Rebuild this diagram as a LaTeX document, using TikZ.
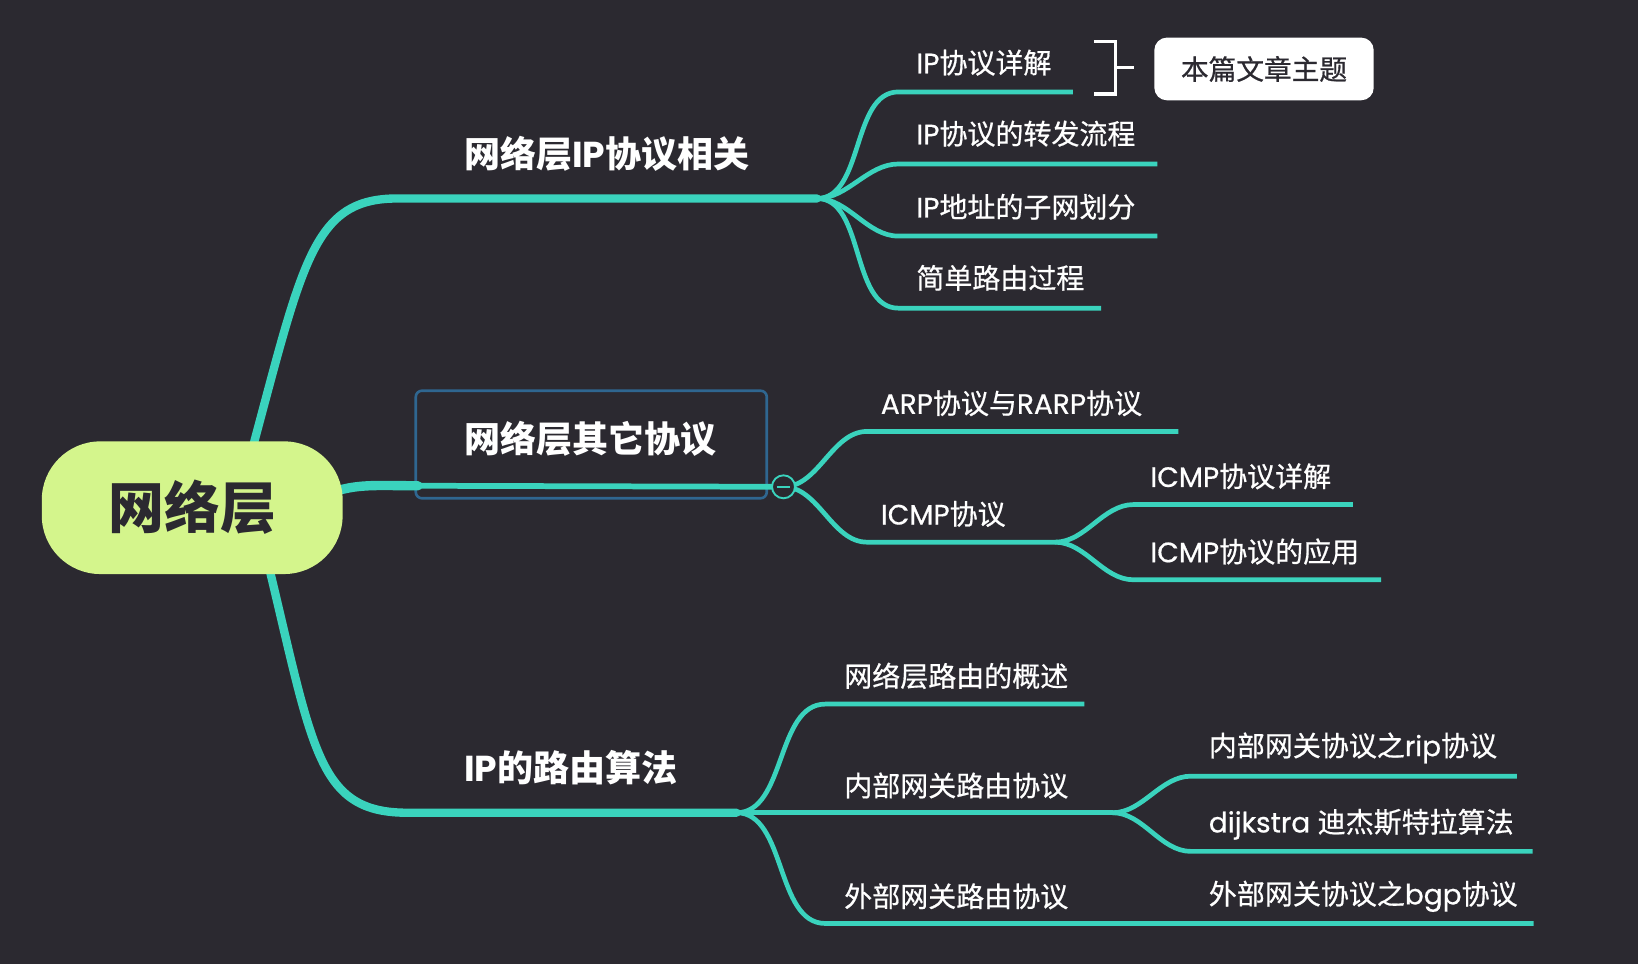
\documentclass[tikz,border=0pt]{standalone}
\usepackage{fontspec}
\setmainfont{Poppins}
\newfontfamily\cjk{Noto Sans CJK SC}
\newfontfamily\cjkm{Noto Sans CJK SC}[FakeBold=0.6]
\newfontfamily\latm{Poppins}[FakeBold=0.6]
\let\zhfont\cjk
\newcommand\zh[1]{{\zhfont #1}}
\definecolor{bg}{HTML}{2B2930}
\definecolor{mmteal}{HTML}{3AD3BD}
\definecolor{rootfill}{HTML}{D4F58C}
\definecolor{boxblue}{HTML}{2F6690}
\tikzset{
  rootnode/.style={fill=rootfill, rounded corners=56pt, minimum width=288pt, minimum height=127pt, inner sep=0pt, text=bg, font=\cjk\bfseries\fontsize{53.5}{60}\selectfont},
  branchlab/.style={anchor=west, inner sep=0pt, text=white, font=\bfseries\fontsize{34.5}{40}\selectfont},
  childlab/.style={anchor=west, inner sep=0pt, text=white, font={\let\zhfont\cjkm\latm\fontsize{26.8}{32}\selectfont}},
  mainline/.style={draw=mmteal, line width=8pt, line cap=round},
  midline/.style={draw=mmteal, line width=5.5pt, line cap=round},
  subline/.style={draw=mmteal, line width=4.5pt},
  curve/.style={out=0, in=180, looseness=0.9},
  otherbox/.style={draw=boxblue, line width=2.5pt, rounded corners=6pt, minimum width=336pt, minimum height=103pt, inner sep=0pt},
  topicbox/.style={fill=white, rounded corners=12pt, minimum width=210pt, minimum height=60pt, inner sep=0pt, text=bg, font=\cjkm\fontsize{26.5}{32}\selectfont},
  bracket/.style={draw=white, line width=3pt},
  collapse/.style={circle, draw=mmteal, fill=bg, line width=1.8pt, minimum size=22pt, inner sep=0pt}
}
\begin{document}
\begin{tikzpicture}[x=1pt,y=-1pt]
\fill[bg] (0,0) rectangle (1568,923);
\useasboundingbox (0,0) rectangle (1568,923);

% branch 2 box
\node[otherbox] (b2box) at (566,425.5) {};

% root and key points
\coordinate (r1) at (242,428);
\coordinate (r2) at (322,470);
\coordinate (r3) at (258,545);
\coordinate (f1) at (782,190);
\coordinate (f2) at (750,466);
\coordinate (f4) at (705,778);
\coordinate (f3) at (1010,519);
\coordinate (f5) at (1065,778);

% main branches
\draw[mainline] (r1) .. controls (290,250) and (300,190) .. (380,190) -- (f1);
\draw[mainline] (r3) .. controls (300,720) and (305,778) .. (390,778) -- (f4);
\draw[mainline, line width=9pt] (r2) .. controls (345,463) and (365,465) .. (400,465);
\draw[midline] (400,465) -- (f2);

% branch 1 children
\coordinate (c1a) at (860,88);  \coordinate (c1b) at (1027,88);
\coordinate (c2a) at (860,157); \coordinate (c2b) at (1108,157);
\coordinate (c3a) at (860,226); \coordinate (c3b) at (1108,226);
\coordinate (c4a) at (860,295); \coordinate (c4b) at (1054,295);
\draw[subline] (f1) to[curve] (c1a) -- (c1b);
\draw[subline] (f1) to[curve] (c2a) -- (c2b);
\draw[subline] (f1) to[curve] (c3a) -- (c3b);
\draw[subline] (f1) to[curve] (c4a) -- (c4b);

% branch 2 children
\coordinate (d1a) at (830,413); \coordinate (d1b) at (1128,413);
\coordinate (d2a) at (830,519);
\coordinate (e1a) at (1085,483); \coordinate (e1b) at (1295,483);
\coordinate (e2a) at (1085,555); \coordinate (e2b) at (1322,555);
\draw[subline] (f2) to[curve] (d1a) -- (d1b);
\draw[subline] (f2) to[curve] (d2a) -- (f3);
\draw[subline] (f3) to[curve] (e1a) -- (e1b);
\draw[subline] (f3) to[curve] (e2a) -- (e2b);

% branch 3 children
\coordinate (g1a) at (790,674); \coordinate (g1b) at (1038,674);
\coordinate (g3a) at (790,884); \coordinate (g3b) at (1468,884);
\coordinate (h1a) at (1140,743); \coordinate (h1b) at (1452,743);
\coordinate (h2a) at (1140,815); \coordinate (h2b) at (1467,815);
\draw[subline] (f4) to[curve] (g1a) -- (g1b);
\draw[subline] (f4) -- (f5);
\draw[subline] (f4) to[curve] (g3a) -- (g3b);
\draw[subline] (f5) to[curve] (h1a) -- (h1b);
\draw[subline] (f5) to[curve] (h2a) -- (h2b);

% collapse marker
\node[collapse] (col) at (f2) {};
\draw[draw=mmteal, line width=1.8pt] ([xshift=-6.5pt]col.center) -- ([xshift=6.5pt]col.center);

% root
\node[rootnode] (root) at (184,486) {网络层};

% branch labels
\node[branchlab] (b1) at (444,147) {\zh{网络层}IP\zh{协议相关}};
\node[branchlab, font=\cjk\bfseries\fontsize{34.5}{40}\selectfont] (b2) at (444,420) {网络层其它协议};
\node[branchlab] (b3) at (444,735) {IP\zh{的路由算法}};

% children labels
\node[childlab] (n11) at (877,60) {IP\zh{协议详解}};
\node[childlab] (n12) at (877,128) {IP\zh{协议的转发流程}};
\node[childlab] (n13) at (877,198) {IP\zh{地址的子网划分}};
\node[childlab] (n14) at (877,266) {\zh{简单路由过程}};

\node[childlab] (n21) at (843,386) {ARP\zh{协议与}RARP\zh{协议}};
\node[childlab] (n22) at (843,492) {ICMP\zh{协议}};
\node[childlab] (n221) at (1101,456) {ICMP\zh{协议详解}};
\node[childlab] (n222) at (1101,528) {ICMP\zh{协议的应用}};

\node[childlab] (n31) at (808,647) {\zh{网络层路由的概述}};
\node[childlab] (n32) at (808,752) {\zh{内部网关路由协议}};
\node[childlab] (n33) at (808,858) {\zh{外部网关路由协议}};
\node[childlab] (n321) at (1157,716) {\zh{内部网关协议之}rip\zh{协议}};
\node[childlab] (n322) at (1157,789) {dijkstra \zh{迪杰斯特拉算法}};
\node[childlab] (n331) at (1157,858) {\zh{外部网关协议之}bgp\zh{协议}};

% bracket and topic
\coordinate (k1) at (1047,40); \coordinate (k2) at (1068,40);
\coordinate (k3) at (1068,90); \coordinate (k4) at (1047,90);
\coordinate (k5) at (1068,65); \coordinate (k6) at (1086,65);
\draw[bracket] (k1) -- (k2) -- (k3) -- (k4);
\draw[bracket] (k5) -- (k6);
\node[topicbox] (topic) at (1210,66) {本篇文章主题};
\end{tikzpicture}
\end{document}
